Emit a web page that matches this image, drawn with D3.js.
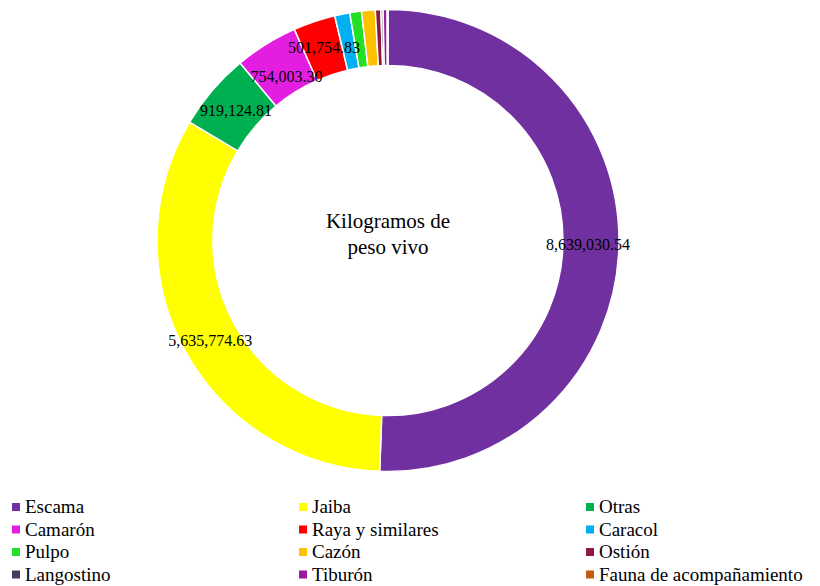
<!DOCTYPE html>
<html>
<head>
<meta charset="utf-8">
<script src="https://cdn.jsdelivr.net/npm/d3@7"></script>
<style>
  body { margin: 0; background: #fff; }
  svg, svg text { font-family: "Liberation Serif", "DejaVu Serif", serif; }
</style>
</head>
<body>
<div id="chart"></div>
<script>
/* donut: kilogramos de peso vivo por especie */
let categories = ["Escama", "Jaiba", "Otras", "Camarón", "Raya y similares", "Caracol",
    "Pulpo", "Cazón", "Ostión", "Langostino", "Tiburón", "Fauna de acompañamiento"];
let values = [8639030.54, 5635774.63, 919124.81, 754003.30, 501754.83, 180000,
    140000, 163000, 67000, 25000, 48000, 10000];
let colors = ["#7030a0", "#ffff00", "#00b050", "#e31ee0", "#ff0000", "#00b0f0",
    "#22e022", "#ffc000", "#8b1a3e", "#4a3b5e", "#9a1aa0", "#c55a11"];
let labeled = ["Escama", "Jaiba", "Otras", "Camarón", "Raya y similares"];

let width = 820, height = 586;
let cx = 388, cy = 240.5;
let outerR = 231, innerR = 175;

// small nudges, excel "best fit" placement
let nudge = {"Camarón": [4, 6], "Raya y similares": [0, -4], "Jaiba": [-2, 4]};

let fmt = d3.format(",.2f");

let svg = d3.select("#chart")
    .append("svg")
    .attr("width", width)
    .attr("height", height);

let pie = d3.pie().sort(null).value(function (d) { return d.v; });
let arcs = pie(categories.map(function (c, i) { return {name: c, v: values[i], color: colors[i]}; }));

let arc = d3.arc().innerRadius(innerR).outerRadius(outerR);
let labelArc = d3.arc().innerRadius(200).outerRadius(200);

let g = svg.append("g").attr("transform", "translate(" + cx + "," + cy + ")");

g.selectAll(".slice")
    .data(arcs)
    .enter()
    .append("path")
    .attr("class", "slice")
    .attr("d", arc)
    .attr("fill", function (d) { return d.data.color; })
    .attr("stroke", "#fff")
    .attr("stroke-width", 1.5);

g.selectAll(".lbl")
    .data(arcs.filter(function (d) { return labeled.indexOf(d.data.name) >= 0; }))
    .enter()
    .append("text")
    .attr("class", "lbl")
    .attr("transform", function (d) {
        let c = labelArc.centroid(d);
        let n = nudge[d.data.name] || [0, 0];
        return "translate(" + (c[0] + n[0]) + "," + (c[1] + n[1]) + ")";
    })
    .attr("text-anchor", "middle")
    .attr("dy", "0.35em")
    .style("font-size", "16px")
    .attr("fill", "#000")
    .text(function (d) { return fmt(d.data.v); });

// center title
let title = g.append("text")
    .attr("text-anchor", "middle")
    .style("font-size", "21px")
    .attr("fill", "#000");
title.append("tspan").attr("x", 0).attr("y", -13).text("Kilogramos de");
title.append("tspan").attr("x", 0).attr("y", 13).text("peso vivo");

// legend, 3 columns
let legend = svg.append("g").attr("transform", "translate(12,498)");
let item = legend.selectAll(".item")
    .data(categories)
    .enter()
    .append("g")
    .attr("class", "item")
    .attr("transform", function (d, i) {
        return "translate(" + ((i % 3) * 287) + "," + (Math.floor(i / 3) * 22.5) + ")";
    });
item.append("rect")
    .attr("width", 8)
    .attr("height", 8)
    .attr("y", 5)
    .attr("fill", function (d, i) { return colors[i]; });
item.append("text")
    .attr("x", 13)
    .attr("y", 15)
    .style("font-size", "19px")
    .attr("fill", "#000")
    .text(function (d) { return d; });
</script>
</body>
</html>
